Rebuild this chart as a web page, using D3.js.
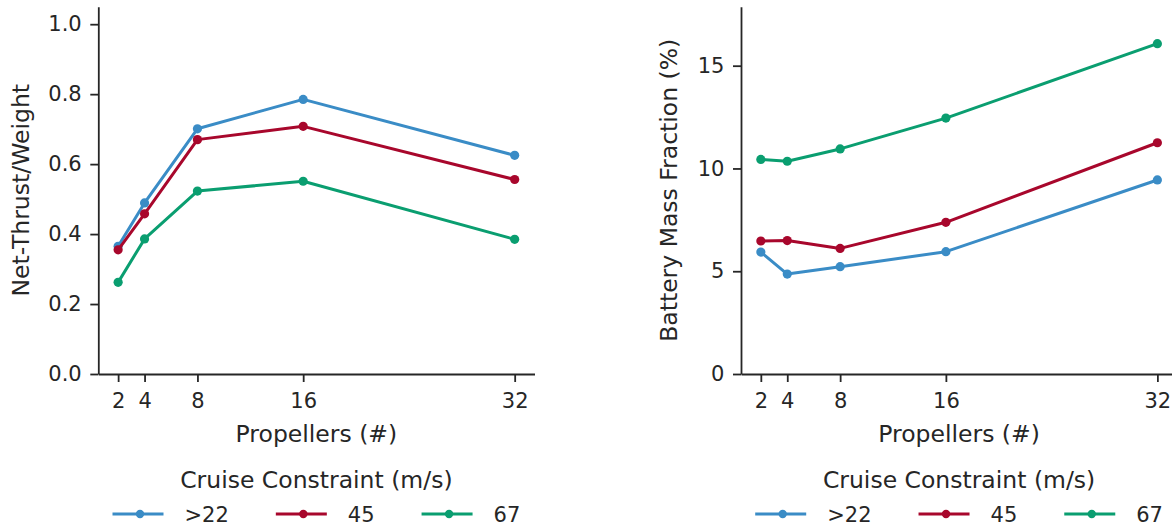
<!DOCTYPE html>
<html><head><meta charset="utf-8">
<script src="https://cdn.jsdelivr.net/npm/d3@7"></script>
<style>
body{margin:0;background:#fff}
svg text{font-family:"DejaVu Sans",sans-serif;fill:#262626}
</style>
</head><body>
<svg id="chart" width="1172" height="529"></svg>
<script>
// ---- data ----
const propellers = [2, 4, 8, 16, 32];
const seriesNames = [">22", "45", "67"];
const seriesColors = ["#3A8CC6", "#A8072C", "#0A9E70"];
const thrust22 = [0.365, 0.489, 0.701, 0.785, 0.625];
const thrust45 = [0.355, 0.458, 0.670, 0.708, 0.556];
const thrust67 = [0.262, 0.386, 0.523, 0.551, 0.385];
const battery22 = [5.93, 4.86, 5.22, 5.95, 9.44];
const battery45 = [6.47, 6.49, 6.11, 7.38, 11.25];
const battery67 = [10.44, 10.35, 10.95, 12.45, 16.07];
const leftYTicks = [0, 0.2, 0.4, 0.6, 0.8, 1.0];
const rightYTicks = [0, 5, 10, 15];
const xTicks = [2, 4, 8, 16, 32];
const xLabel = "Propellers (#)";
const leftYLabel = "Net-Thrust/Weight";
const rightYLabel = "Battery Mass Fraction (%)";
const legendTitle = "Cruise Constraint (m/s)";

const svg = d3.select("#chart");

function panel(opts) {
  const g = svg.append("g");
  const x = d3.scaleLinear().domain([0.5, 33.5]).range([opts.x0, opts.x1]);
  const y = d3.scaleLinear().domain(opts.yDomain).range([374, 6.7]);

  const xa = g.append("g").attr("transform", "translate(0,374)")
    .call(d3.axisBottom(x).tickValues(xTicks).tickSize(8).tickSizeOuter(0).tickPadding(11).tickFormat(d3.format("d")));
  const ya = g.append("g").attr("transform", `translate(${opts.x0},0)`)
    .call(d3.axisLeft(y).tickValues(opts.yTicks).tickSize(8).tickSizeOuter(0).tickPadding(8.6).tickFormat(opts.fmt));
  [xa, ya].forEach(a => {
    a.attr("font-size", 21).attr("font-family", null);
    a.selectAll("path.domain").attr("stroke", "#262626").attr("stroke-width", 1.8);
    a.selectAll(".tick line").attr("stroke", "#262626").attr("stroke-width", 1.8);
    a.selectAll(".tick text").attr("fill", "#262626");
  });

  const line = d3.line().x((d, i) => x(propellers[i])).y(d => y(d));
  opts.series.forEach((vals, si) => {
    g.append("path").datum(vals).attr("d", line)
      .attr("fill", "none").attr("stroke", seriesColors[si]).attr("stroke-width", 3)
      .attr("stroke-linejoin", "round").attr("stroke-linecap", "round");
    g.selectAll(null).data(vals).enter().append("circle")
      .attr("cx", (d, i) => x(propellers[i])).attr("cy", d => y(d)).attr("r", 4.6)
      .attr("fill", seriesColors[si]);
  });

  const cx = (opts.x0 + opts.x1) / 2;
  g.append("text").attr("x", cx).attr("y", 442).attr("text-anchor", "middle")
    .attr("font-size", 23.5).text(xLabel);
  g.append("text").attr("transform", `translate(${opts.labelX},190.3) rotate(-90)`)
    .attr("text-anchor", "middle").attr("font-size", 23.5).text(opts.yLabel);

  // legend
  g.append("text").attr("x", cx).attr("y", 487.5).attr("text-anchor", "middle")
    .attr("font-size", 23.5).text(legendTitle);
  const handleLen = 51, textOff = 72, colSpace = 47;
  const tmp = g.append("g");
  const widths = seriesNames.map(n => {
    const t = tmp.append("text").attr("font-size", 21).text(n);
    const w = t.node().getComputedTextLength(); t.remove(); return w;
  });
  tmp.remove();
  const total = widths.reduce((a, w) => a + textOff + w, 0) + colSpace * (seriesNames.length - 1);
  let lx = cx - total / 2;
  seriesNames.forEach((n, i) => {
    g.append("line").attr("x1", lx).attr("x2", lx + handleLen).attr("y1", 514).attr("y2", 514)
      .attr("stroke", seriesColors[i]).attr("stroke-width", 3);
    g.append("circle").attr("cx", lx + handleLen / 2 + 2).attr("cy", 514).attr("r", 4.2).attr("fill", seriesColors[i]);
    g.append("text").attr("x", lx + textOff).attr("y", 521.7).attr("font-size", 21).text(n);
    lx += textOff + widths[i] + colSpace;
  });
}

panel({x0: 98.3, x1: 534.5, yDomain: [0, 1.05], yTicks: leftYTicks, fmt: d3.format(".1f"),
  series: [thrust22, thrust45, thrust67], yLabel: leftYLabel, labelX: 29});
panel({x0: 741, x1: 1177.2, yDomain: [0, 17.87], yTicks: rightYTicks, fmt: d3.format("d"),
  series: [battery22, battery45, battery67], yLabel: rightYLabel, labelX: 677});
</script>
</body></html>
